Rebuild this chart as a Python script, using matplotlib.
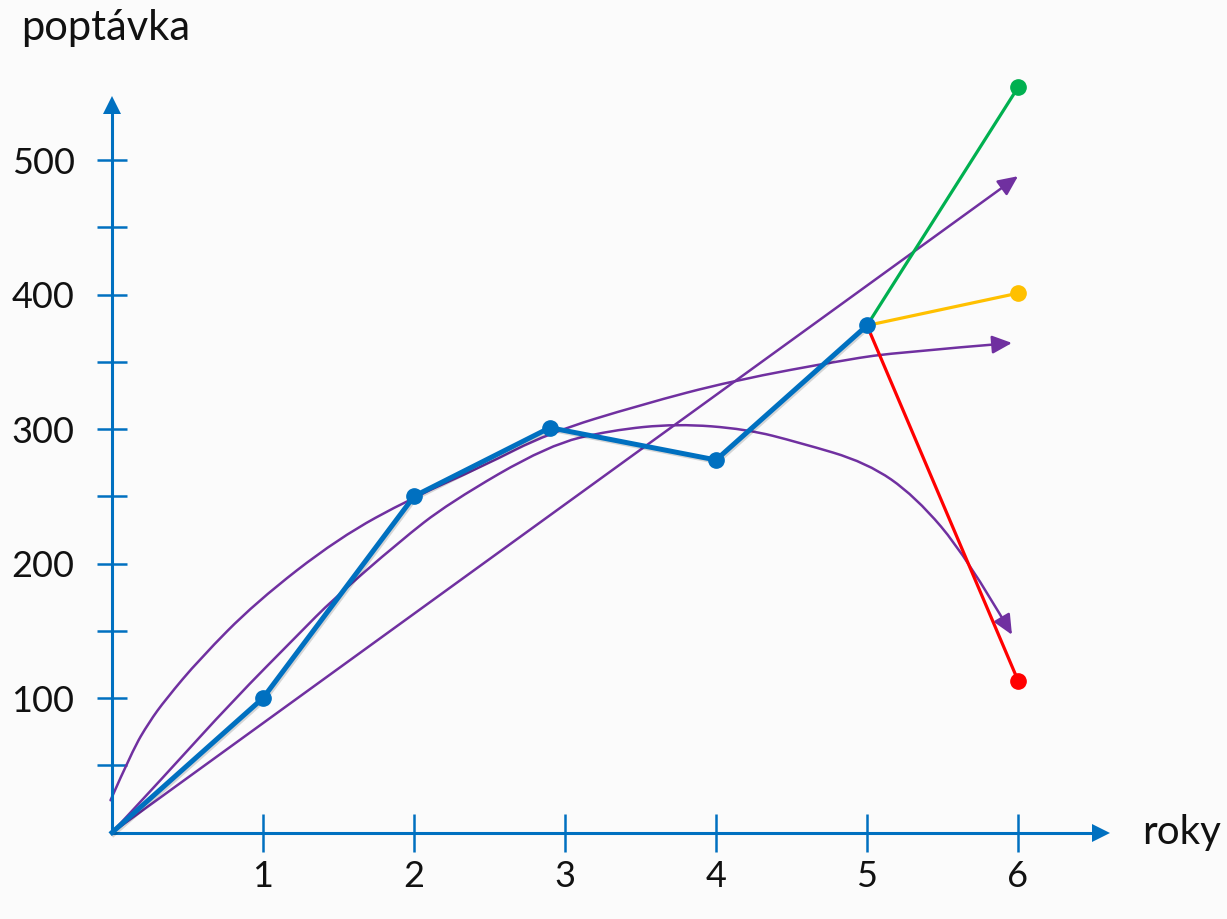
import numpy as np
import matplotlib
matplotlib.use("Agg")
import matplotlib.pyplot as plt
import matplotlib.patheffects as pe
from matplotlib.path import Path
from matplotlib.patches import FancyArrowPatch

# measured demand (roky vs poptavka)
years = [0, 1, 2, 2.9, 4, 5]
demand = [0, 100, 250, 301, 277, 377]

# three scenarios for year 6, starting at the last measured point
scen_x = [5, 6]
scen_high = [377, 554]
scen_mid = [377, 401]
scen_low = [377, 113]

# purple trend guesses
lin_x = [0, 6]
lin_y = [0, 488]

log_x = [-0.01, 0.135, 0.245, 0.355, 0.58, 0.95, 1.5, 1.99, 2.45, 2.89, 3.5, 4.11, 4.88, 5.21, 5.96]
log_y = [24, 61, 82, 99, 129, 171, 219, 249, 272, 297, 318, 336, 352, 357, 364]

hump_x = [0, 0.355, 0.8, 1.24, 1.46, 1.9, 2.23, 2.89, 3.3, 3.74, 4.2, 4.55, 5.0, 5.32, 5.66, 5.96]
hump_y = [0, 43, 98, 148, 173, 216, 245, 288, 299, 304, 300, 290, 275, 250, 205, 147]

yticks = [100, 200, 300, 400, 500]
yminor = [50, 150, 250, 350, 450]
xticks = [1, 2, 3, 4, 5, 6]

axis_col = '#0070c0'
purple = '#7030a0'
text_col = '#111111'


def smooth_path(xs, ys):
    # quadratic bezier through midpoints, drawn by matplotlib's Path
    pts = list(zip(xs, ys))
    verts = [pts[0]]
    codes = [Path.MOVETO]
    for i in range(1, len(pts) - 1):
        mid = ((pts[i][0] + pts[i + 1][0]) / 2, (pts[i][1] + pts[i + 1][1]) / 2)
        if i == len(pts) - 2:
            mid = pts[-1]
        verts += [pts[i], mid]
        codes += [Path.CURVE3, Path.CURVE3]
    if len(pts) == 2:
        verts.append(pts[1])
        codes.append(Path.LINETO)
    return Path(verts, codes)


plt.rcParams['font.family'] = ['Lato', 'DejaVu Sans']

fig = plt.figure(figsize=(12.27, 9.19), dpi=100)
fig.patch.set_facecolor('#fbfbfb')
ax = fig.add_axes([0, 0, 1, 1])
ax.set_facecolor('#fbfbfb')
ax.set_xlim(-0.742, 7.384)
ax.set_ylim(-64.3, 619.0)

for s in ['top', 'right']:
    ax.spines[s].set_visible(False)
ax.spines['left'].set_position(('data', 0))
ax.spines['bottom'].set_position(('data', 0))
ax.spines['left'].set_bounds(0, 535)
ax.spines['bottom'].set_bounds(0, 6.5)
for s in ['left', 'bottom']:
    ax.spines[s].set_color(axis_col)
    ax.spines[s].set_linewidth(2.2)

ax.set_xticks(xticks)
ax.set_xticklabels([str(t) for t in xticks])
ax.set_yticks(yticks)
ax.set_yticks(yminor, minor=True)
ax.set_yticklabels([str(t) for t in yticks])
ax.tick_params(axis='y', which='both', direction='inout', length=22, width=1.8,
               color=axis_col, labelsize=26, pad=16, labelcolor=text_col)
ax.tick_params(axis='x', which='major', direction='inout', length=28, width=1.8,
               color=axis_col, labelsize=26, pad=6, labelcolor=text_col)

# axis arrow heads
ax.plot(6.55, 0, marker='>', color=axis_col, ms=13, mew=0, clip_on=False, zorder=3)
ax.plot(0, 541, marker='^', color=axis_col, ms=13, mew=0, clip_on=False, zorder=3)

ax.text(-0.6, 598, 'poptávka', fontsize=30, color=text_col, va='center', ha='left')
ax.text(6.82, 0, 'roky', fontsize=29, color=text_col, va='center', ha='left')

# purple trend lines with arrow heads
arrow_style = '-|>,head_length=12,head_width=5.5'
for xs, ys in [(lin_x, lin_y), (log_x, log_y), (hump_x, hump_y)]:
    arr = FancyArrowPatch(path=smooth_path(xs, ys), arrowstyle=arrow_style,
                          color=purple, lw=1.8, transform=ax.transData,
                          mutation_scale=1, zorder=2)
    ax.add_patch(arr)

# scenarios
ax.plot(scen_x, scen_high, color='#00b050', lw=2.3, zorder=3)
ax.plot(scen_x, scen_mid, color='#ffc000', lw=2.3, zorder=3)
ax.plot(scen_x, scen_low, color='#ff0000', lw=2.3, zorder=3)
ax.plot(6, scen_high[-1], 'o', color='#00b050', ms=11, zorder=4)
ax.plot(6, scen_mid[-1], 'o', color='#ffc000', ms=11, zorder=4)
ax.plot(6, scen_low[-1], 'o', color='#ff0000', ms=11, zorder=4)

# measured line
shadow = [pe.SimpleLineShadow(offset=(1.0, -1.2), alpha=0.15), pe.Normal()]
ax.plot(years, demand, color=axis_col, lw=3.6, zorder=5, path_effects=shadow)
ax.plot(years[1:], demand[1:], 'o', color=axis_col, ms=11, zorder=6)

fig.savefig('out.png', dpi=100, facecolor=fig.get_facecolor())
